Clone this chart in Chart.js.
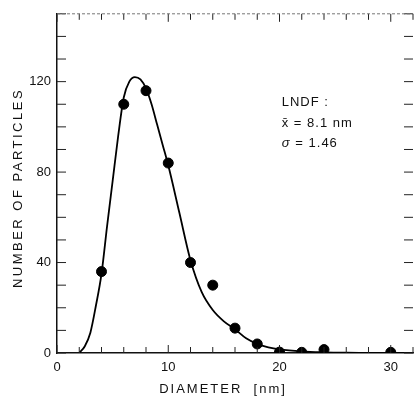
<!DOCTYPE html>
<html>
<head>
<meta charset="utf-8">
<script src="https://cdn.jsdelivr.net/npm/chart.js@4.4.1/dist/chart.umd.min.js"></script>
<style>
  html, body { margin: 0; padding: 0; background: #fff; overflow: hidden; }
  #wrap { width: 420px; height: 399px; }
</style>
</head>
<body>
<div id="wrap"><canvas id="sizeChart" width="420" height="399"></canvas></div>
<script>
// measured particles
const diameters = [4, 6, 8, 10, 12, 14, 16, 18, 20, 22, 24, 30];
const counts = [36, 110, 116, 84, 40, 30, 11, 4, 0.4, 0.3, 1.5, 0.3];

// LNDF fit curve
const fitX = [2, 2.5, 3, 3.5, 4, 4.5, 5, 5.5, 6, 6.5, 7, 7.5, 8, 8.5, 9, 9.5, 10, 11, 12, 13, 14, 15, 16, 17, 18, 19, 20, 22, 24, 26, 28, 32];
const fitY = [0, 3, 9, 21, 35, 56, 76, 96, 113, 120, 122, 121, 117, 110, 101, 92, 83, 62, 41, 27, 19, 14, 10.5, 6.5, 4, 2.5, 1.6, 0.7, 0.3, 0.1, 0, 0];

const xTickLabels = [0, 10, 20, 30];
const yTickLabels = [0, 40, 80, 120];
const fitNote = ['LNDF :', 'x\u0304 = 8.1 nm', '\u03c3 = 1.46'];

const FONT = '"Liberation Sans", Arial, sans-serif';

// inward ticks on all four sides, frame on top, titles and the fit note
const framePlugin = {
  id: 'frame',
  afterDraw(chart) {
    const { ctx, chartArea: a, scales } = chart;
    const x = scales.x, y = scales.y;
    ctx.save();
    ctx.strokeStyle = '#222';
    ctx.lineWidth = 1;
    x.ticks.forEach(t => {
      const px = x.getPixelForValue(t.value);
      const len = t.value % 10 === 0 ? 8 : 6;
      ctx.beginPath();
      ctx.moveTo(px, a.bottom); ctx.lineTo(px, a.bottom - len);
      ctx.moveTo(px, a.top); ctx.lineTo(px, a.top + len);
      ctx.stroke();
    });
    y.ticks.forEach(t => {
      const py = y.getPixelForValue(t.value);
      ctx.beginPath();
      ctx.moveTo(a.left, py); ctx.lineTo(a.left + 9, py);
      ctx.moveTo(a.right, py); ctx.lineTo(a.right - 9, py);
      ctx.stroke();
    });
    // faint top frame
    ctx.strokeStyle = '#777';
    ctx.setLineDash([3, 2]);
    ctx.beginPath();
    ctx.moveTo(a.left, a.top); ctx.lineTo(a.right, a.top);
    ctx.stroke();
    ctx.setLineDash([]);

    // axis titles
    ctx.fillStyle = '#111';
    ctx.font = '13px ' + FONT;
    ctx.textAlign = 'center';
    ctx.textBaseline = 'middle';
    ctx.letterSpacing = '2px';
    ctx.fillText('DIAMETER  [nm]', 223, 389);
    ctx.save();
    ctx.translate(18, 188);
    ctx.rotate(-Math.PI / 2);
    ctx.letterSpacing = '2.5px';
    ctx.fillText('NUMBER OF PARTICLES', 0, 0);
    ctx.restore();

    // fit note
    ctx.letterSpacing = '1px';
    ctx.textAlign = 'left';
    ctx.font = '13px ' + FONT;
    const nx = x.getPixelForValue(20.2);
    const ny = [111, 101.5, 92.5];
    fitNote.forEach((s, i) => {
      if (i === 2) {
        ctx.font = 'italic 13px ' + FONT;
        ctx.fillText(s.slice(0, 1), nx, y.getPixelForValue(ny[i]));
        ctx.font = '13px ' + FONT;
        ctx.fillText(s.slice(1), nx + 9, y.getPixelForValue(ny[i]));
      } else {
        ctx.fillText(s, nx, y.getPixelForValue(ny[i]));
      }
    });
    ctx.restore();
  }
};

new Chart(document.getElementById('sizeChart'), {
  type: 'scatter',
  data: {
    datasets: [
      {
        label: 'fit',
        type: 'line',
        data: fitX.map((v, i) => ({ x: v, y: fitY[i] })),
        borderColor: '#000',
        borderWidth: 1.8,
        pointRadius: 0,
        cubicInterpolationMode: 'monotone',
        fill: false,
        order: 2,
      },
      {
        label: 'measured',
        data: diameters.map((v, i) => ({ x: v, y: counts[i] })),
        backgroundColor: '#000',
        borderColor: '#000',
        pointRadius: 5,
        order: 1,
      },
    ],
  },
  options: {
    responsive: false,
    animation: false,
    layout: { padding: { top: 13, right: 2, left: 0, bottom: 0 } },
    plugins: { legend: { display: false }, tooltip: { enabled: false } },
    scales: {
      x: {
        type: 'linear',
        min: 0,
        max: 32,
        grid: { display: false, drawTicks: false },
        border: { display: true, color: '#111', width: 1.5 },
        ticks: {
          stepSize: 2,
          autoSkip: false,
          maxRotation: 0,
          padding: 7,
          color: '#111',
          font: { family: FONT, size: 13 },
          callback: v => (xTickLabels.includes(v) ? v : ''),
        },
        afterFit: s => { s.height = 46; },
      },
      y: {
        min: 0,
        max: 150,
        grid: { display: false, drawTicks: false },
        border: { display: true, color: '#111', width: 1.5 },
        ticks: {
          stepSize: 10,
          autoSkip: false,
          padding: 6,
          color: '#111',
          font: { family: FONT, size: 13 },
          callback: v => (yTickLabels.includes(v) ? v : ''),
        },
        afterFit: s => { s.width = 57; },
      },
    },
  },
  plugins: [framePlugin],
});
</script>
</body>
</html>
